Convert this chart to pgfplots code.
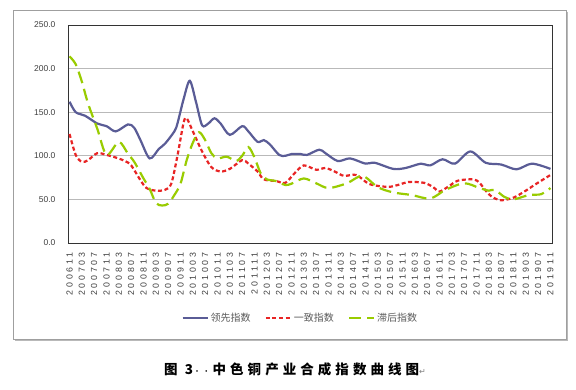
\documentclass[border=0pt]{standalone}
\usepackage{fontspec}
\usepackage{pgfplots}
\pgfplotsset{compat=1.18}
\setmainfont{Liberation Sans}
\newfontfamily\ticksp[LetterSpace=32]{Liberation Sans}
\newfontfamily\cjk{Noto Sans CJK SC}
\newfontfamily\cjkcap[LetterSpace=30]{Noto Sans CJK SC}
\newfontfamily\dejavu{DejaVu Sans}
\definecolor{leadc}{RGB}{90,92,150}
\definecolor{coinc}{RGB}{232,36,36}
\definecolor{lagc}{RGB}{153,204,0}
\definecolor{txt}{RGB}{64,64,64}
\begin{document}
\begin{tikzpicture}
\useasboundingbox (0,0) rectangle (576pt,390pt);
\fill[white] (0,0) rectangle (576pt,390pt);
% shadow + frame
\draw[gray!55, line width=1.6pt] (567.6pt,378pt) -- (567.6pt,49.4pt) -- (15pt,49.4pt);
\draw[gray!75, line width=0.8pt] (13pt,51pt) rectangle (566pt,380pt);
\begin{axis}[
  at={(68pt,147pt)}, anchor=south west,
  width=484pt, height=218pt, scale only axis,
  xmin=-0.5, xmax=156.5, ymin=0, ymax=250,
  xtick={0,4,...,156},
  xticklabels={200611,200703,200707,200711,200803,200807,200811,200903,200907,200911,201003,201007,201011,201103,201107,201111,201203,201207,201211,201303,201307,201311,201403,201407,201411,201503,201507,201511,201603,201607,201611,201703,201707,201711,201803,201807,201811,201903,201907,201911},
  ytick={0,50,...,250},
  ymajorgrids, grid style={gray!55, line width=0.7pt},
  axis line style={draw=black!80, line width=0.9pt},
  major tick length=0pt,
  tick label style={text=txt},
  xticklabel shift=6pt,
  xticklabel style={rotate=90, anchor=east, font=\ticksp\fontsize{8.8}{10}\selectfont},
  yticklabel style={font=\fontsize{8.5}{10}\selectfont, xshift=-9pt,
    /pgf/number format/fixed, /pgf/number format/fixed zerofill,
    /pgf/number format/precision=1, /pgf/number format/assume math mode=true},
  legend style={at={(0.48,-0.344)}, anchor=center, draw=none, fill=none,
    legend columns=3, font=\cjk\fontsize{10}{12}\selectfont, text=black!65,
    /tikz/every even column/.append style={column sep=12pt},
    /tikz/every odd column/.append style={column sep=0pt}},
  legend image code/.code={\draw[#1] (0pt,0pt) -- (25pt,0pt);},
  clip=false,
]
\addplot[leadc, line width=2.2pt, smooth, tension=0.5] coordinates {
(0,162) (2,150) (5,146) (9,137) (12,134) (15,128) (19,136) (21,132) (23,118) (26,97)
(29,108) (31,114) (34,128) (35,137) (37,165) (39,186) (41,162) (43,135) (45,137) (47,143)
(49,137) (52,124) (56,134) (58,128) (61,116) (63,118) (65,113) (68,101) (70,100) (72,102)
(75,102) (77,101) (81,107) (83,103) (87,94) (91,97) (96,91) (99,92) (105,85) (109,86)
(114,91) (117,89) (121,96) (125,91) (130,105) (135,92) (140,90) (145,84.5) (150,91) (156,85)
};
\addlegendentry{领先指数}
\addplot[coinc, line width=2.2pt, dash pattern=on 4pt off 2.6pt, smooth, tension=0.5] coordinates {
(0,125) (2,101) (4,93) (6,95) (9,103) (12,101) (15,98) (18,94) (20,89) (23,72)
(25,63) (28,60) (31,61) (33,68) (35,100) (37,138) (38,143) (40,128) (43,105) (46,87)
(49,82) (52,85) (56,95) (58,91) (61,82) (63,73) (67,71) (70,69) (73,80) (76,89)
(80,84) (83,86) (86,82) (89,77) (93,78) (97,68) (101,65) (104,64.5) (107,67) (110,70)
(115,69) (118,64) (120,59) (123,65) (126,71.5) (131,73) (133,69) (135,60) (137,53) (140,49)
(144,52) (148,60) (151,67) (156,78)
};
\addlegendentry{一致指数}
\addplot[lagc, line width=2.2pt, dash pattern=on 12pt off 6pt, smooth, tension=0.5] coordinates {
(0,214) (2,205) (4,185) (6,160) (9,131) (12,101) (16,116) (19,102) (21,93) (24,74)
(26,62) (28,46) (30,43) (32,45) (34,55) (36,68) (38,95) (40,115) (42,127) (44,118)
(46,103) (48,97) (51,99) (54,94) (56,100) (58,110) (60,98) (62,80) (64,73) (67,71)
(70,66.5) (72,68) (76,74) (80,68.5) (84,63) (90,68.5) (95,77) (100,64) (105,58) (111,55)
(117,51) (122,61) (128,68.5) (133,63) (136,60) (138,61) (141,53) (144,50) (149,55) (153,56)
(156,63)
};
\addlegendentry{滞后指数}
\end{axis}
\node[anchor=west, inner sep=0pt] at (164pt,21pt) {\cjkcap\bfseries\fontsize{13.5}{15}\selectfont 图\ 3{\fontsize{8}{10}\selectfont\mdseries·\,·}\,中色铜产业合成指数曲线图{\dejavu\mdseries\color{gray}\fontsize{8}{10}\selectfont ↵}};
\end{tikzpicture}
\end{document}
